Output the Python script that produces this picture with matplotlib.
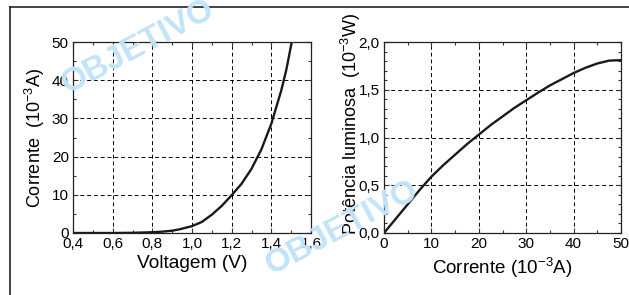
import matplotlib as mpl
mpl.use("Agg")
import matplotlib.pyplot as plt
from matplotlib.ticker import MultipleLocator, FuncFormatter
from matplotlib.lines import Line2D

# curva I x V do LED
voltagem = [0.4, 0.5, 0.6, 0.7, 0.8, 0.85, 0.9, 0.94, 1.0, 1.05, 1.1, 1.15, 1.2,
            1.25, 1.3, 1.35, 1.4, 1.45, 1.475, 1.503]
corrente = [0.0, 0.0, 0.0, 0.05, 0.2, 0.35, 0.6, 1.0, 1.8, 2.9, 4.8, 7.1, 9.9,
            12.9, 16.8, 21.9, 28.6, 37.3, 42.6, 50.0]

# potencia luminosa x corrente
corrente2 = [0, 2.5, 5, 7.5, 10, 12.5, 15, 17.5, 20, 22.5, 25, 27.5, 30, 32.5,
             35, 37.5, 40, 42.5, 45, 47.5, 50]
potencia = [0.0, 0.15, 0.3, 0.45, 0.59, 0.71, 0.82, 0.93, 1.03, 1.13, 1.22,
            1.31, 1.39, 1.47, 1.545, 1.61, 1.675, 1.73, 1.775, 1.805, 1.81]

plt.rcParams['font.family'] = ['Liberation Sans', 'DejaVu Sans']
plt.rcParams['mathtext.fontset'] = 'custom'
plt.rcParams['mathtext.rm'] = 'Liberation Sans'

W, H = 629, 295
fig = plt.figure(figsize=(W / 100, H / 100), dpi=100)

def virgula(fmt):
  return FuncFormatter(lambda v, p: (fmt % v).replace(".", ","))

def estilo(ax):
  ax.tick_params(which="both", direction="in", top=True, right=True,
                 labelsize=11, width=0.8, color="#333333", pad=3)
  ax.tick_params(which="major", length=3.5)
  ax.tick_params(which="minor", length=2.5)
  ax.grid(True, which="major", color="black", linestyle=(0, (4, 3)), linewidth=0.7)
  for s in ax.spines.values():
    s.set_linewidth(0.9)
    s.set_color("#222222")

ax1 = fig.add_axes([73 / W, 1 - 233 / H, 238 / W, 191 / H])
ax1.plot(voltagem, corrente, color="#1a1a1a", lw=1.7, solid_capstyle="butt")
ax1.set_xlim(0.4, 1.6)
ax1.set_ylim(0, 50)
ax1.xaxis.set_major_locator(MultipleLocator(0.2))
ax1.xaxis.set_minor_locator(MultipleLocator(0.1))
ax1.yaxis.set_major_locator(MultipleLocator(10))
ax1.yaxis.set_minor_locator(MultipleLocator(5))
ax1.xaxis.set_major_formatter(virgula("%.1f"))
estilo(ax1)
ax1.set_xlabel("Voltagem (V)", fontsize=13.8, labelpad=3)
ax1.set_ylabel(r"Corrente  (10$^{\mathregular{-3}}$A)", fontsize=13)
ax1.yaxis.set_label_coords(-0.11, 0.5)

ax2 = fig.add_axes([384 / W, 1 - 233 / H, 237 / W, 191 / H])
ax2.plot(corrente2, potencia, color="#1a1a1a", lw=1.7, solid_capstyle="butt")
ax2.set_xlim(0, 50)
ax2.set_ylim(0, 2.0)
ax2.xaxis.set_major_locator(MultipleLocator(10))
ax2.xaxis.set_minor_locator(MultipleLocator(5))
ax2.yaxis.set_major_locator(MultipleLocator(0.5))
ax2.yaxis.set_minor_locator(MultipleLocator(0.1))
ax2.yaxis.set_major_formatter(virgula("%.1f"))
estilo(ax2)
ax2.set_xlabel(r"Corrente (10$^{\mathregular{-3}}$A)", fontsize=13.5, labelpad=3)
ax2.set_ylabel(r"Potência luminosa  (10$^{\mathregular{-3}}$W)", fontsize=13)
ax2.yaxis.set_label_coords(-0.09, 0.57)

# moldura da figura
fig.add_artist(Line2D([9.5 / W, 9.5 / W], [0, 1 - 6.5 / H], transform=fig.transFigure,
                      color="#222222", lw=1.2))
fig.add_artist(Line2D([9.5 / W, 1], [1 - 6.5 / H, 1 - 6.5 / H], transform=fig.transFigure,
                      color="#222222", lw=1.2))

# marca d'agua
azul = "#c2e4f8"
fig.text(138 / W, 1 - 47 / H, "OBJETIVO", fontsize=24, fontweight="bold", color=azul,
         rotation=28, ha="center", va="center", zorder=5)
fig.text(342 / W, 1 - 228 / H, "OBJETIVO", fontsize=24, fontweight="bold", color=azul,
         rotation=28, ha="center", va="center", zorder=5)

fig.savefig("out.png", dpi=100)
